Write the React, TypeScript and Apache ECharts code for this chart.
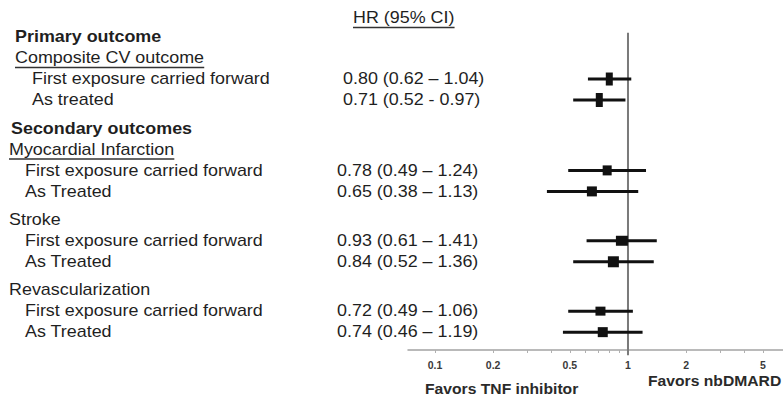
import React, { useEffect, useRef } from "react";
import * as echarts from "echarts";

// ---------- data ----------
const sections = ["Primary outcome", "Secondary outcomes"];
const outcomes = ["Composite CV outcome", "Myocardial Infarction", "Stroke", "Revascularization"];
const outcomeSection = [0, 1, 1, 1];
const outcomeUnderlined = [true, true, false, false];
const outcomeRows = [[0, 1], [2, 3], [4, 5], [6, 7]];
const analyses = [
  "First exposure carried forward",
  "As treated",
  "First exposure carried forward",
  "As Treated",
  "First exposure carried forward",
  "As Treated",
  "First exposure carried forward",
  "As Treated",
];
const hr = [0.8, 0.71, 0.78, 0.65, 0.93, 0.84, 0.72, 0.74];
const ciLow = [0.62, 0.52, 0.49, 0.38, 0.61, 0.52, 0.49, 0.46];
const ciHigh = [1.04, 0.97, 1.24, 1.13, 1.41, 1.36, 1.06, 1.19];
const ciSep = [" \u2013 ", " - ", " \u2013 ", " \u2013 ", " \u2013 ", " \u2013 ", " \u2013 ", " \u2013 "];
const columnHeader = "HR (95% CI)";
const tickValues = [0.1, 0.2, 0.5, 1, 2, 5];
const minorTickValues = [0.3, 0.4, 0.6, 0.7, 0.8, 0.9, 3, 4];
const favorsLeft = "Favors TNF inhibitor";
const favorsRight = "Favors nbDMARD";

// ---------- styling ----------
const FONT = "'Liberation Sans', Arial, sans-serif";
const SX = 1.12; // horizontal stretch of the reference text
const FS = 16;
const TEXT = "#1f1f1f";
const axisMin = 0.0724;
const axisMax = 6.36;
const markerDims = [[7, 13], [7, 14], [9, 10], [10, 10], [12, 10], [11, 11], [10, 9], [10, 10]];
const GAP = 0.35;

const hrLabels = hr.map(
  (v, i) => `${v.toFixed(2)} (${ciLow[i].toFixed(2)}${ciSep[i]}${ciHigh[i].toFixed(2)})`
);

type Line = { text: string; pos: number; x: number; bold: boolean; underline: boolean };

const lines: Line[] = [];
const rowPos: number[] = new Array(hr.length).fill(0);
(() => {
  let p = 0;
  let lastSection = -1;
  outcomes.forEach((name, oi) => {
    const s = outcomeSection[oi];
    const block = s;
    if (s !== lastSection) {
      if (lastSection >= 0) p += GAP;
      lines.push({ text: sections[s], pos: p, x: s === 0 ? 15 : 11, bold: true, underline: false });
      p += 1;
      lastSection = s;
    } else {
      p += GAP;
    }
    lines.push({ text: name, pos: p, x: block === 0 ? 15 : 9, bold: false, underline: outcomeUnderlined[oi] });
    p += 1;
    outcomeRows[oi].forEach((ri) => {
      rowPos[ri] = p;
      lines.push({ text: analyses[ri], pos: p, x: block === 0 ? 32 : 25, bold: false, underline: false });
      lines.push({ text: hrLabels[ri], pos: p, x: block === 0 ? 343 : 337, bold: false, underline: false });
      p += 1;
    });
  });
  lines.push({ text: columnHeader, pos: -0.9, x: 353, bold: false, underline: true });
})();

const yMin = -1;
const yMax = 14.9;

let measureCtx: CanvasRenderingContext2D | null = null;
function measure(text: string, bold: boolean, size: number) {
  if (!measureCtx) measureCtx = document.createElement("canvas").getContext("2d");
  if (!measureCtx) return text.length * size * 0.55;
  measureCtx.font = `${bold ? "bold " : ""}${size}px ${FONT}`;
  return measureCtx.measureText(text).width;
}

export default function App() {
  const ref = useRef<HTMLDivElement>(null);
  useEffect(() => {
    if (!ref.current) return;
    const chart = echarts.init(ref.current, undefined, { renderer: "svg" });
    const lg = Math.log10;
    chart.setOption({
      animation: false,
      grid: { left: 408, right: 0, top: 16, bottom: 55 },
      xAxis: {
        type: "value",
        min: lg(axisMin),
        max: lg(axisMax),
        splitLine: { show: false },
        axisLine: { show: true, onZero: false, lineStyle: { color: "#a3a3a3", width: 1.5 } },
        axisTick: {
          show: true,
          customValues: [...tickValues, ...minorTickValues].map(lg),
          length: 3,
          lineStyle: { color: "#b0b0b0", width: 1 },
        },
        axisLabel: {
          customValues: tickValues.map(lg),
          formatter: (v: number) => String(Number(Math.pow(10, v).toPrecision(3))),
          fontSize: 10.5,
          fontWeight: "bold",
          fontFamily: FONT,
          color: "#3a3a3a",
          margin: 9,
        },
      },
      yAxis: { type: "value", inverse: true, min: yMin, max: yMax, show: false },
      series: [
        {
          type: "line",
          silent: true,
          symbol: "none",
          data: [[0, -0.2], [0, yMax + 0.25]],
          lineStyle: { color: "#7a7a7a", width: 2 },
          clip: false,
          z: 1,
        },
        {
          type: "custom",
          silent: true,
          z: 3,
          data: hr.map((v, i) => [lg(v), rowPos[i], lg(ciLow[i]), lg(ciHigh[i])]),
          renderItem: (params: any, api: any) => {
            const i = params.dataIndex;
            const c = api.coord([api.value(0), api.value(1)]);
            const l = api.coord([api.value(2), api.value(1)]);
            const h = api.coord([api.value(3), api.value(1)]);
            const [w, hh] = markerDims[i];
            return {
              type: "group",
              children: [
                {
                  type: "line",
                  shape: { x1: l[0], y1: c[1], x2: h[0], y2: c[1] },
                  style: { stroke: "#111", lineWidth: 3 },
                },
                {
                  type: "rect",
                  shape: { x: c[0] - w / 2, y: c[1] - hh / 2, width: w, height: hh },
                  style: { fill: "#111" },
                },
              ],
            };
          },
        },
        {
          type: "custom",
          silent: true,
          z: 4,
          data: lines.map((l) => [0, l.pos]),
          renderItem: (params: any, api: any) => {
            const L = lines[params.dataIndex];
            const y = api.coord([0, api.value(1)])[1];
            const children: any[] = [
              {
                type: "text",
                x: L.x,
                y,
                scaleX: SX,
                style: {
                  text: L.text,
                  fontSize: FS,
                  fontFamily: FONT,
                  fontWeight: L.bold ? "bold" : "normal",
                  fill: TEXT,
                  align: "left",
                  verticalAlign: "middle",
                },
              },
            ];
            if (L.underline) {
              const wdt = measure(L.text, L.bold, FS) * SX;
              children.push({
                type: "line",
                shape: { x1: L.x, y1: y + 9.5, x2: L.x + wdt, y2: y + 9.5 },
                style: { stroke: "#333", lineWidth: 1.5 },
              });
            }
            return { type: "group", children };
          },
        },
      ],
      graphic: [
        {
          type: "text",
          x: 425,
          y: 389,
          scaleX: SX,
          style: {
            text: favorsLeft,
            fontSize: 14,
            fontWeight: "bold",
            fontFamily: FONT,
            fill: "#2a2a2a",
            verticalAlign: "middle",
          },
        },
        {
          type: "text",
          x: 648,
          y: 381,
          scaleX: SX,
          style: {
            text: favorsRight,
            fontSize: 14,
            fontWeight: "bold",
            fontFamily: FONT,
            fill: "#2a2a2a",
            verticalAlign: "middle",
          },
        },
      ],
    });
    return () => chart.dispose();
  }, []);
  return (
    <div
      ref={ref}
      style={{ position: "fixed", left: 0, top: 0, width: 783, height: 405, background: "#fff" }}
    />
  );
}
